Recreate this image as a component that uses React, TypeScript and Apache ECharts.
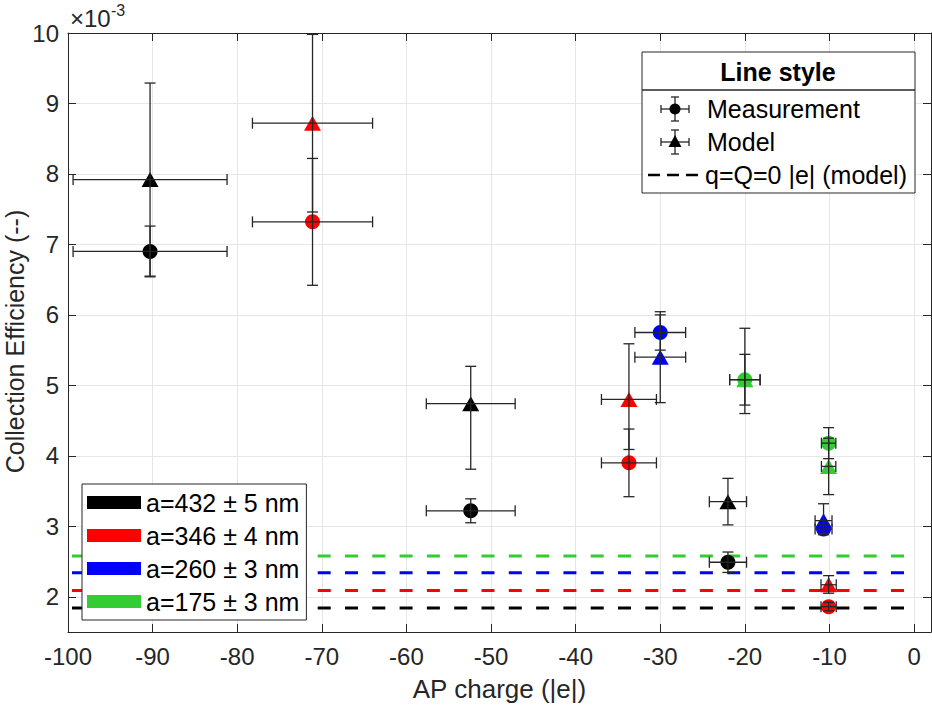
import React, { useEffect, useRef } from 'react';
import * as echarts from 'echarts';

const FONT = "'Liberation Sans', Arial, Helvetica, sans-serif";
const INK = '#262626';

// nanoparticle size groups (bottom-left legend)
const groupNames = ['a=432 ± 5 nm', 'a=346 ± 4 nm', 'a=260 ± 3 nm', 'a=175 ± 3 nm'];
const groupColors = ['#000000', '#ff0000', '#0000ff', '#33cc33'];

// q=Q=0 |e| model level per group (x 1e-3)
const baseline = [1.84, 2.09, 2.34, 2.58];

// AP charge of each point and its uncertainty
const charge = [
  [-90.3, -52.4, -22.0],
  [-71.1, -33.7, -10.1],
  [-30.0, -10.7],
  [-20.0, -10.1],
];
const chargeErr = [
  [9.1, 5.25, 2.2],
  [7.1, 3.25, 0.9],
  [3.0, 1.0],
  [1.8, 0.85],
];

// measured collection efficiency (x 1e-3) and error
const measured = [
  [6.90, 3.22, 2.49],
  [7.32, 3.90, 1.86],
  [5.75, 2.96],
  [5.08, 4.18],
];
const measuredErr = [
  [0.36, 0.17, 0.145],
  [0.90, 0.48, 0.06],
  [0.25, 0.06],
  [0.36, 0.22],
];

// model collection efficiency (x 1e-3), lower / upper error
const model = [
  [7.92, 4.74, 3.35],
  [8.72, 4.80, 2.17],
  [5.40, 3.08],
  [5.08, 3.85],
];
const modelErrLow = [
  [1.37, 0.93, 0.33],
  [1.26, 0.71, 0.12],
  [0.645, 0.20],
  [0.48, 0.40],
];
const modelErrHigh = [
  [1.37, 0.53, 0.33],
  [1.26, 0.79, 0.13],
  [0.645, 0.24],
  [0.73, 0.40],
];

const xTicks = [-100, -90, -80, -70, -60, -50, -40, -30, -20, -10, 0];
const yTicks = [2, 3, 4, 5, 6, 7, 8, 9, 10];

const renderErrorBar = (params: any, api: any) => {
  const x = api.value(0);
  const y = api.value(1);
  const xe = api.value(2);
  const lo = api.value(3);
  const hi = api.value(4);
  const l = api.coord([x - xe, y]);
  const r = api.coord([x + xe, y]);
  const t = api.coord([x, y + hi]);
  const b = api.coord([x, y - lo]);
  const cap = 5.5;
  const seg = (x1: number, y1: number, x2: number, y2: number) => ({
    type: 'line',
    shape: { x1, y1, x2, y2 },
    style: { stroke: INK, lineWidth: 1.3 },
  });
  return {
    type: 'group',
    children: [
      seg(l[0], l[1], r[0], r[1]),
      seg(l[0], l[1] - cap, l[0], l[1] + cap),
      seg(r[0], r[1] - cap, r[0], r[1] + cap),
      seg(t[0], t[1], b[0], b[1]),
      seg(t[0] - cap, t[1], t[0] + cap, t[1]),
      seg(b[0] - cap, b[1], b[0] + cap, b[1]),
    ],
  };
};

// pieces of the "Line style" legend box (top right)
const Z = 50;
const bar = (x1: number, y1: number, x2: number, y2: number) => ({
  type: 'line',
  z: Z,
  shape: { x1, y1, x2, y2 },
  style: { stroke: INK, lineWidth: 1.3 },
});
const errIcon = (cx: number, cy: number) => [
  bar(cx - 14, cy, cx + 14, cy),
  bar(cx - 14, cy - 4, cx - 14, cy + 4),
  bar(cx + 14, cy - 4, cx + 14, cy + 4),
  bar(cx, cy - 12, cx, cy + 12),
  bar(cx - 4, cy - 12, cx + 4, cy - 12),
  bar(cx - 4, cy + 12, cx + 4, cy + 12),
];
const label = (x: number, y: number, text: string) => ({
  type: 'text',
  z: Z,
  x,
  y,
  style: { text, fontSize: 25, fill: '#000', verticalAlign: 'middle', fontFamily: FONT },
});

const App: React.FC = () => {
  const chartRef = useRef<HTMLDivElement>(null);

  useEffect(() => {
    if (!chartRef.current) return;
    const chart = echarts.init(chartRef.current, undefined, { renderer: 'svg' });

    const series: any[] = [];
    groupNames.forEach((name, i) => {
      series.push({
        name,
        type: 'line',
        data: [[-100, baseline[i]], [0, baseline[i]]],
        symbol: 'none',
        color: groupColors[i],
        itemStyle: { color: groupColors[i] },
        lineStyle: { color: groupColors[i], width: 3, type: [13, 14.3], dashOffset: -4, cap: 'butt' },
        z: 1,
      });
    });
    groupNames.forEach((name, i) => {
      series.push({
        name: name + ' measurement',
        type: 'scatter',
        data: charge[i].map((x, j) => [x, measured[i][j]]),
        symbol: 'circle',
        symbolSize: 15,
        itemStyle: { color: groupColors[i], opacity: 1 },
        z: 3,
      });
      series.push({
        name: name + ' model',
        type: 'scatter',
        data: charge[i].map((x, j) => [x, model[i][j]]),
        symbol: 'triangle',
        symbolSize: [17, 15],
        itemStyle: { color: groupColors[i], opacity: 1 },
        z: 3,
      });
    });
    groupNames.forEach((name, i) => {
      series.push({
        name: name + ' measurement error',
        type: 'custom',
        renderItem: renderErrorBar,
        data: charge[i].map((x, j) => [x, measured[i][j], chargeErr[i][j], measuredErr[i][j], measuredErr[i][j]]),
        encode: { x: 0, y: 1 },
        z: 4,
      });
      series.push({
        name: name + ' model error',
        type: 'custom',
        renderItem: renderErrorBar,
        data: charge[i].map((x, j) => [x, model[i][j], chargeErr[i][j], modelErrLow[i][j], modelErrHigh[i][j]]),
        encode: { x: 0, y: 1 },
        z: 4,
      });
    });

    const axisLine = { show: true, onZero: false, lineStyle: { color: INK, width: 1 } };
    const axisTick = (vals: number[]) => ({
      show: true,
      inside: true,
      length: 8,
      customValues: vals,
      lineStyle: { color: INK, width: 1 },
    });

    const option: any = {
      animation: false,
      backgroundColor: '#ffffff',
      textStyle: { fontFamily: FONT },
      grid: { left: 68, right: 1, top: 33, bottom: 73, containLabel: false, outerBoundsMode: 'none' },
      legend: {
        data: groupNames,
        orient: 'vertical',
        left: 82,
        top: 484,
        icon: 'rect',
        itemWidth: 54,
        itemHeight: 13,
        itemGap: 8,
        padding: [6, 7, 6, 5],
        backgroundColor: '#ffffff',
        borderColor: INK,
        borderWidth: 1,
        borderRadius: 0,
        selectedMode: false,
        itemStyle: { borderWidth: 0 },
        textStyle: { fontSize: 25, color: '#000', fontFamily: FONT },
      },
      xAxis: [
        {
          type: 'value',
          min: -100,
          max: 2,
          position: 'bottom',
          name: 'AP charge (|e|)',
          nameLocation: 'middle',
          nameGap: 44,
          nameMoveOverlap: false,
          nameTextStyle: { fontSize: 26, color: INK, fontFamily: FONT },
          axisLine,
          axisTick: axisTick(xTicks),
          axisLabel: { customValues: xTicks, fontSize: 24, color: INK, margin: 12, fontFamily: FONT },
          splitLine: { show: true, lineStyle: { color: '#e6e6e6', width: 1 } },
        },
        {
          type: 'value',
          min: -100,
          max: 2,
          position: 'top',
          axisLine,
          axisTick: axisTick(xTicks),
          axisLabel: { show: false },
          splitLine: { show: false },
        },
      ],
      yAxis: [
        {
          type: 'value',
          min: 1.5,
          max: 10,
          position: 'left',
          name: 'Collection Efficiency (--)',
          nameLocation: 'middle',
          nameGap: 41,
          nameMoveOverlap: false,
          nameTextStyle: { fontSize: 25, color: INK, fontFamily: FONT, padding: [0, 18, 0, 0] },
          axisLine,
          axisTick: axisTick(yTicks),
          axisLabel: { customValues: yTicks, fontSize: 24, color: INK, margin: 9, fontFamily: FONT },
          splitLine: { show: true, lineStyle: { color: '#e6e6e6', width: 1 } },
        },
        {
          type: 'value',
          min: 1.5,
          max: 10,
          position: 'right',
          axisLine,
          axisTick: axisTick(yTicks),
          axisLabel: { show: false },
          splitLine: { show: false },
        },
      ],
      graphic: [
        {
          type: 'text',
          left: 70,
          top: 6,
          style: { text: '×10', fontSize: 24, fill: INK, fontFamily: FONT },
        },
        {
          type: 'text',
          left: 111,
          top: 2,
          style: { text: '-3', fontSize: 16, fill: INK, fontFamily: FONT },
        },
        {
          type: 'rect',
          z: Z,
          shape: { x: 642, y: 52, width: 273, height: 141 },
          style: { fill: '#ffffff', stroke: INK, lineWidth: 1 },
        },
        bar(642, 90, 915, 90),
        {
          type: 'text',
          z: Z,
          x: 778,
          y: 72,
          style: { text: 'Line style', fontSize: 25, fontWeight: 'bold', fill: '#000', align: 'center', verticalAlign: 'middle', fontFamily: FONT },
        },
        ...errIcon(675, 109),
        { type: 'circle', z: Z, shape: { cx: 675, cy: 109, r: 5.5 }, style: { fill: '#000' } },
        label(707, 109, 'Measurement'),
        ...errIcon(675, 142),
        { type: 'polygon', z: Z, shape: { points: [[675, 135], [668.5, 147], [681.5, 147]] }, style: { fill: '#000' } },
        label(707, 142, 'Model'),
        {
          type: 'line',
          z: Z,
          shape: { x1: 648, y1: 175, x2: 700, y2: 175 },
          style: { stroke: '#000', lineWidth: 2.5, lineDash: [12, 7] },
        },
        label(705, 175, 'q=Q=0 |e| (model)'),
      ],
      series,
    };

    chart.setOption(option);
    return () => {
      chart.dispose();
    };
  }, []);

  return (
    <div
      ref={chartRef}
      style={{ position: 'fixed', left: 0, top: 0, width: '932px', height: '705px' }}
    />
  );
};

export default App;
